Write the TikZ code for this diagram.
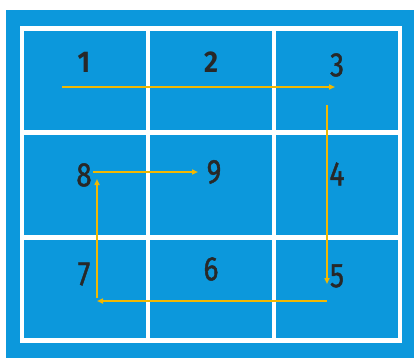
\documentclass[tikz,border=0pt]{standalone}
\usepackage{fontspec}
\setmainfont{Fira Sans}
\newfontfamily\digitfont[FakeStretch=0.82, FakeBold=1.2]{Fira Sans}
\newfontfamily\digitfontb[FakeStretch=0.9]{Fira Sans}
\usetikzlibrary{arrows.meta}
\definecolor{courtblue}{RGB}{12,152,220}
\definecolor{pathyellow}{RGB}{242,184,0}
\definecolor{digitgray}{RGB}{40,40,40}

\begin{document}
\begin{tikzpicture}[
        x=1pt, y=-1pt,
        cell/.style={fill=courtblue, draw=none},
        num/.style={text=digitgray, inner sep=0pt, font=\digitfont\fontsize{34}{34}\selectfont},
        numb/.style={text=digitgray, inner sep=0pt, font=\digitfontb\bfseries\fontsize{30}{30}\selectfont},
        route/.style={draw=pathyellow, line width=1.8pt, -{Triangle[length=6pt, width=5pt]}}
    ]
        \useasboundingbox (0,0) rectangle (414,358);

        % Fondo del campo
        \fill[courtblue] (6,10) rectangle (414,358);
        \fill[white] (20,26) rectangle (402,343);

        % Celdas
        \foreach \cx in {24,150,276} {
            \fill[courtblue] (\cx,31) rectangle ++(122,99);
            \fill[courtblue] (\cx,135) rectangle ++(122,100);
            \fill[courtblue] (\cx,240) rectangle ++(122,98);
        }

        % Numeros
        \node[numb] (n1) at (84,62) {1};
        \node[numb] (n2) at (211,62) {2};
        \node[num] (n3) at (337,65) {3};
        \node[num] (n4) at (337,174) {4};
        \node[num] (n5) at (337,276) {5};
        \node[num] (n6) at (211,269) {6};
        \node[num] (n7) at (84,274) {7};
        \node[num] (n8) at (84,175) {8};
        \node[num] (n9) at (214,172) {9};

        % Puntos del recorrido
        \coordinate (r1s) at (62,87);
        \coordinate (r1e) at (335,87);
        \coordinate (r2s) at (327,105);
        \coordinate (r2e) at (327,284);
        \coordinate (r3s) at (327,301);
        \coordinate (r3e) at (97,301);
        \coordinate (r4s) at (97,298);
        \coordinate (r4e) at (97,179);
        \coordinate (r5s) at (93,172);
        \coordinate (r5e) at (198,172);

        % Recorrido
        \draw[route] (r1s) -- (r1e);
        \draw[route] (r2s) -- (r2e);
        \draw[route] (r3s) -- (r3e);
        \draw[route] (r4s) -- (r4e);
        \draw[route] (r5s) -- (r5e);

    \end{tikzpicture}
\end{document}
